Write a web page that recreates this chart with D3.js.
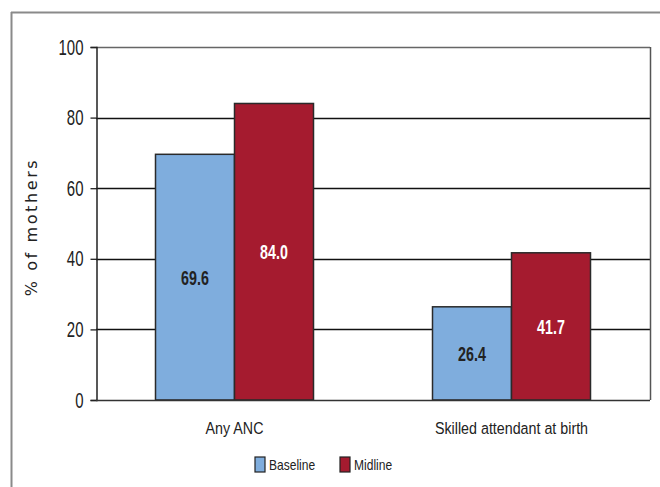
<!DOCTYPE html>
<html>
<head>
<meta charset="utf-8">
<script src="https://cdn.jsdelivr.net/npm/d3@7"></script>
<style>
  html, body { margin: 0; padding: 0; background: #fff; }
  svg { display: block; }
  .narrow { font-family: "Liberation Sans", Arial, sans-serif; }
</style>
</head>
<body>
<svg id="chart" width="660" height="487"></svg>
<script>
// Antenatal care and skilled birth attendance, baseline vs midline
const categories = ["Any ANC", "Skilled attendant at birth"];
const seriesNames = ["Baseline", "Midline"];
const baselineValues = [69.6, 26.4];
const midlineValues = [84.0, 41.7];
const yTicks = [0, 20, 40, 60, 80, 100];

const colors = { Baseline: "#7faddd", Midline: "#a51b2f" };
const labelColors = { Baseline: "#222222", Midline: "#ffffff" };

const svg = d3.select("#chart");
const W = 660, H = 487;
const plot = { left: 96, right: 650, top: 47, bottom: 400 };

// horizontally condensed text placed at (x, y)
function narrowText(sel, x, y, sx) {
  return sel.attr("x", 0).attr("y", 0)
    .attr("transform", (d, i, n) => {
      const xx = typeof x === "function" ? x(d, i, n) : x;
      const yy = typeof y === "function" ? y(d, i, n) : y;
      return `translate(${xx},${yy}) scale(${sx},1)`;
    });
}

// outer frame (top and left edges)
svg.append("line").attr("x1", 11).attr("x2", W).attr("y1", 12.5).attr("y2", 12.5)
  .attr("stroke", "#8a8a8a").attr("stroke-width", 2);
svg.append("line").attr("x1", 11.5).attr("x2", 11.5).attr("y1", 12).attr("y2", H)
  .attr("stroke", "#8a8a8a").attr("stroke-width", 2);

const x0 = d3.scaleBand().domain(categories).range([plot.left, plot.right]);
const x1 = d3.scaleBand().domain(seriesNames).range([0, 158]);
const y = d3.scaleLinear().domain([0, 100]).range([plot.bottom, plot.top]);

// gridlines
svg.append("g").selectAll("line").data(yTicks.filter(t => t > 0)).join("line")
  .attr("x1", plot.left).attr("x2", plot.right)
  .attr("y1", d => Math.round(y(d)) + 0.5).attr("y2", d => Math.round(y(d)) + 0.5)
  .attr("stroke", d => d === 100 ? "#666" : "#111").attr("stroke-width", 1.3);

// right border of plot area
svg.append("line").attr("x1", plot.right + 0.5).attr("x2", plot.right + 0.5)
  .attr("y1", y(100)).attr("y2", y(0)).attr("stroke", "#555").attr("stroke-width", 1.5);

const data = categories.map((c, i) => ({
  category: c,
  values: [
    { series: "Baseline", value: baselineValues[i] },
    { series: "Midline", value: midlineValues[i] }
  ]
}));

const groups = svg.append("g").selectAll("g").data(data).join("g")
  .attr("transform", d => `translate(${x0(d.category) + x0.bandwidth() / 2 - 79},0)`);

groups.selectAll("rect").data(d => d.values).join("rect")
  .attr("x", d => x1(d.series))
  .attr("y", d => y(d.value))
  .attr("width", x1.bandwidth())
  .attr("height", d => y(0) - y(d.value))
  .attr("fill", d => colors[d.series])
  .attr("stroke", "#2a2a2a").attr("stroke-width", 1.5);

groups.selectAll("text").data(d => d.values).join("text")
  .attr("class", "narrow")
  .call(narrowText, d => x1(d.series) + x1.bandwidth() / 2, d => (y(d.value) + y(0)) / 2, 0.68)
  .attr("dy", "0.36em")
  .attr("text-anchor", "middle")
  .attr("font-size", 21).attr("font-weight", "bold")
  .attr("fill", d => labelColors[d.series])
  .text(d => d.value.toFixed(1));

// y axis
const yAxis = svg.append("g").attr("transform", `translate(${plot.left + 0.5},0)`)
  .call(d3.axisLeft(y).tickValues(yTicks).tickSize(6).tickPadding(7).tickFormat(d3.format("d")));
yAxis.select(".domain").attr("stroke", "#222").attr("stroke-width", 1.5);
yAxis.selectAll(".tick line").attr("stroke", "#222").attr("stroke-width", 1.3);
yAxis.selectAll(".tick text").each(function () {
  const t = d3.select(this);
  const sx = 0.68;
  t.attr("class", "narrow").attr("font-size", 22).attr("fill", "#222")
    .attr("x", +t.attr("x") / sx).attr("transform", `scale(${sx},1)`);
});

// x axis baseline and category labels
svg.append("line").attr("x1", plot.left).attr("x2", plot.right)
  .attr("y1", y(0) + 0.5).attr("y2", y(0) + 0.5).attr("stroke", "#333").attr("stroke-width", 1.5);
svg.append("g").selectAll("text").data(categories).join("text")
  .attr("class", "narrow")
  .call(narrowText, d => x0(d) + x0.bandwidth() / 2, 434, 0.84)
  .attr("text-anchor", "middle")
  .attr("font-size", 17).attr("fill", "#222")
  .text(d => d);

// y axis title
svg.append("text")
  .attr("transform", "translate(37,227) rotate(-90)")
  .attr("text-anchor", "middle")
  .attr("font-family", "'DejaVu Sans', Verdana, sans-serif")
  .attr("font-size", 16).attr("letter-spacing", 2.6).attr("fill", "#222")
  .text("% of mothers");

// legend
const legendX = [255, 340];
const legend = svg.append("g").selectAll("g").data(seriesNames).join("g")
  .attr("transform", (d, i) => `translate(${legendX[i]},457)`);
legend.append("rect").attr("width", 10).attr("height", 15)
  .attr("fill", d => colors[d]).attr("stroke", "#222").attr("stroke-width", 1.2);
legend.append("text").attr("class", "narrow")
  .call(narrowText, 14, 13, 0.86)
  .attr("font-size", 14).attr("fill", "#222")
  .text(d => d);
</script>
</body>
</html>
